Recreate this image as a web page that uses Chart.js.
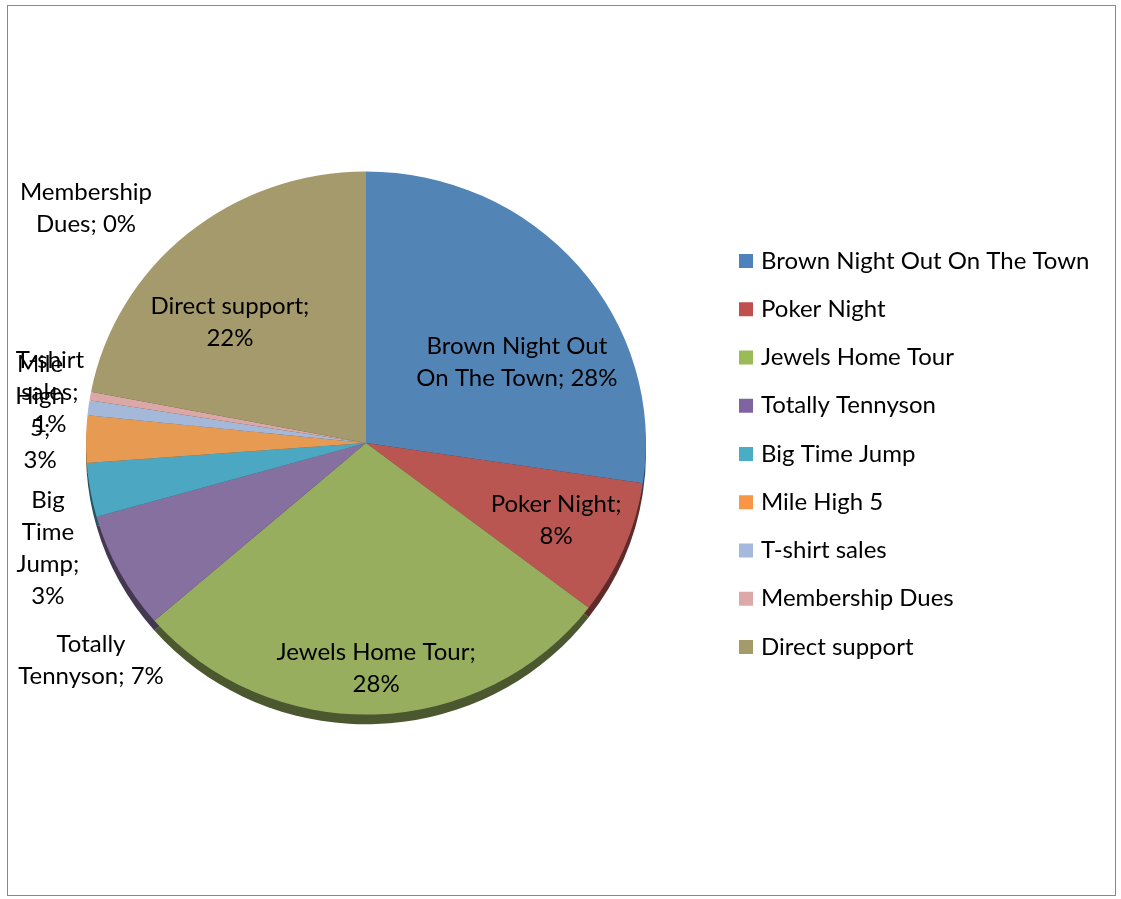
<!DOCTYPE html>
<html>
<head>
<meta charset="utf-8">
<script src="https://cdn.jsdelivr.net/npm/chart.js@4.4.1/dist/chart.umd.min.js"></script>
<style>
  html, body { margin: 0; padding: 0; background: #fff; }
  .frame {
    position: absolute; left: 7px; top: 5px;
    width: 1107px; height: 889px;
    border: 1px solid #888;
  }
  canvas { display: block; }
</style>
</head>
<body>
<div class="frame"><canvas id="pieChart" width="1107" height="889"></canvas></div>
<script>
// ===== DATA =====
const categories = [
  "Brown Night Out On The Town",
  "Poker Night",
  "Jewels Home Tour",
  "Totally Tennyson",
  "Big Time Jump",
  "Mile High 5",
  "T-shirt sales",
  "Membership Dues",
  "Direct support",
];
// share of total
const values = [27.4, 8.0, 28.3, 7.0, 3.2, 2.8, 0.9, 0.5, 22.0];
// percentages as printed on the data labels
const shownPct = ["28%", "8%", "28%", "7%", "3%", "3%", "1%", "0%", "22%"];
// how each data label wraps
const labelLines = [
  ["Brown Night Out", "On The Town; 28%"],
  ["Poker Night;", "8%"],
  ["Jewels Home Tour;", "28%"],
  ["Totally", "Tennyson; 7%"],
  ["Big", "Time", "Jump;", "3%"],
  ["Mile", "High", "5;", "3%"],
  ["T-shirt", "sales;", "1%"],
  ["Membership", "Dues; 0%"],
  ["Direct support;", "22%"],
];

// ===== STYLE =====
const sliceColors = [
  "#5384b6", "#ba5652", "#96ae5e", "#8570a0", "#4ca8c2",
  "#e69a52", "#a4b8da", "#dba8a7", "#a59a6c",
];
const legendColors = [
  "#4f81bd", "#c0504d", "#9bbb59", "#8064a2", "#4bacc6",
  "#f79646", "#a5b9dc", "#dda9a8", "#a59b68",
];
const FONT = "Lato, 'Open Sans', sans-serif";
const FONT_SIZE = 24;
const LINE_H = 32;
const TILT = 0.97;   // pie is drawn slightly squashed (3D look)
const DEPTH = 10;    // thickness of the pie edge

// label anchor, in units of the pie radius from the pie centre
const labelOffsets = [
  [0.539, -0.289],
  [0.679, 0.275],
  [0.036, 0.804],
  [-0.982, 0.775],
  [-1.136, 0.375],
  [-1.164, -0.111],
  [-1.129, -0.182],
  [-1.0, -0.839],
  [-0.486, -0.432],
];

function darken(hex, f) {
  const n = parseInt(hex.slice(1), 16);
  const r = Math.round(((n >> 16) & 255) * f);
  const g = Math.round(((n >> 8) & 255) * f);
  const b = Math.round((n & 255) * f);
  return `rgb(${r},${g},${b})`;
}

/* ===== PLUGINS ===== */
// squash the pie and draw its darker edge underneath
const pie3d = {
  id: "pie3d",
  beforeDatasetsDraw(chart) {
    const ctx = chart.ctx;
    const arcs = chart.getDatasetMeta(0).data;
    const cx = arcs[0].x, cy = arcs[0].y;
    ctx.save();
    ctx.translate(cx, cy);
    ctx.scale(1, TILT);
    ctx.translate(-cx, -cy);
    arcs.forEach((a, i) => {
      ctx.beginPath();
      ctx.moveTo(a.x, a.y + DEPTH);
      ctx.arc(a.x, a.y + DEPTH, a.outerRadius, a.startAngle, a.endAngle);
      ctx.closePath();
      ctx.fillStyle = darken(sliceColors[i], 0.5);
      ctx.fill();
    });
  },
  afterDatasetsDraw(chart) {
    chart.ctx.restore();
  },
};

// data labels "name; pct"
const sliceLabels = {
  id: "sliceLabels",
  afterDatasetsDraw(chart) {
    const ctx = chart.ctx;
    const arcs = chart.getDatasetMeta(0).data;
    const cx = arcs[0].x, cy = arcs[0].y, R = arcs[0].outerRadius;
    ctx.save();
    ctx.font = `${FONT_SIZE}px ${FONT}`;
    ctx.fillStyle = "#000";
    ctx.textAlign = "center";
    ctx.textBaseline = "middle";
    labelLines.forEach((lines, i) => {
      const x = cx + labelOffsets[i][0] * R;
      const y = cy + labelOffsets[i][1] * R;
      const top = y - ((lines.length - 1) * LINE_H) / 2;
      lines.forEach((t, k) => ctx.fillText(t, x, top + k * LINE_H));
    });
    ctx.restore();
  },
};

// legend on the right
const sideLegend = {
  id: "sideLegend",
  afterDraw(chart) {
    const ctx = chart.ctx;
    const boxX = 731, textX = 753, firstY = 255, step = 48.25, box = 14;
    ctx.save();
    ctx.font = `${FONT_SIZE}px ${FONT}`;
    ctx.textAlign = "left";
    ctx.textBaseline = "middle";
    chart.data.labels.forEach((name, i) => {
      const y = firstY + i * step;
      ctx.fillStyle = legendColors[i];
      ctx.fillRect(boxX, y - box / 2, box, box);
      ctx.fillStyle = "#000";
      ctx.fillText(name, textX, y);
    });
    ctx.restore();
  },
};

/* ===== CHART ===== */
const ctx = document.getElementById("pieChart").getContext("2d");

const chart = new Chart(ctx, {
  type: "pie",
  data: {
    labels: categories,
    datasets: [
      {
        data: values,
        backgroundColor: sliceColors,
        borderWidth: 0,
      },
    ],
  },
  options: {
    responsive: false,
    animation: false,
    layout: {
      padding: { left: 78, top: 157, right: 469, bottom: 172 },
    },
    plugins: {
      legend: { display: false },
      tooltip: { enabled: false },
    },
  },
  plugins: [pie3d, sliceLabels, sideLegend],
});
</script>
</body>
</html>
